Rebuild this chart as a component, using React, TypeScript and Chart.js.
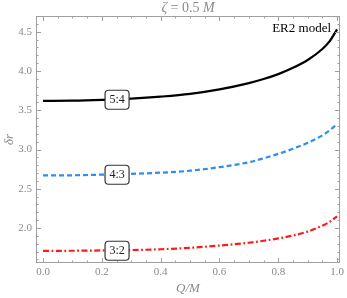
import React, { useEffect, useRef } from "react";
import { Chart, registerables } from "chart.js";

Chart.register(...registerables);

const qValues = [0, 0.1, 0.2, 0.3, 0.4, 0.5, 0.6, 0.7, 0.75, 0.8, 0.85, 0.9, 0.95, 0.975, 1.0];
const ratio54 = [3.62, 3.622, 3.632, 3.648, 3.673, 3.708, 3.765, 3.845, 3.897, 3.96, 4.04, 4.14, 4.28, 4.38, 4.53];
const ratio43 = [2.67, 2.672, 2.68, 2.69, 2.705, 2.73, 2.775, 2.838, 2.888, 2.945, 3.01, 3.085, 3.18, 3.245, 3.325];
const ratio32 = [1.71, 1.711, 1.715, 1.72, 1.73, 1.748, 1.777, 1.813, 1.838, 1.868, 1.905, 1.955, 2.03, 2.08, 2.15];
const seriesLabels = ["5:4", "4:3", "3:2"];
const labelQ = 0.25;
const xTickValues = [0, 0.2, 0.4, 0.6, 0.8, 1.0];
const yTickValues = [2.0, 2.5, 3.0, 3.5, 4.0, 4.5];
const xMin = -0.024, xMax = 1.01, yMin = 1.555, yMax = 4.7;

const GRAY = "#8a8a8a";
const FRAME = "#a0a0a0";

function interp(xs: number[], ys: number[], x: number) {
  for (let i = 0; i < xs.length - 1; i++) {
    if (x >= xs[i] && x <= xs[i + 1]) {
      const t = (x - xs[i]) / (xs[i + 1] - xs[i]);
      return ys[i] + t * (ys[i + 1] - ys[i]);
    }
  }
  return ys[ys.length - 1];
}

const decorPlugin = {
  id: "decor",
  afterDraw(chart: any) {
    const ctx = chart.ctx;
    const { left, right, top, bottom } = chart.chartArea;
    const xs = chart.scales.x;
    const ys = chart.scales.y;
    ctx.save();
    ctx.strokeStyle = FRAME;
    ctx.lineWidth = 1;
    ctx.strokeRect(left + 0.5, top + 0.5, right - left - 1, bottom - top - 1);
    for (let k = 0; k <= 20; k++) {
      const v = k * 0.05;
      const major = k % 4 === 0;
      const len = major ? 5 : 2.5;
      const px = Math.round(xs.getPixelForValue(v)) + 0.5;
      ctx.beginPath();
      ctx.moveTo(px, bottom);
      ctx.lineTo(px, bottom - len);
      ctx.moveTo(px, top);
      ctx.lineTo(px, top + len);
      ctx.stroke();
    }
    for (let k = 16; k <= 47; k++) {
      const v = k / 10;
      if (v < yMin || v > yMax) continue;
      const major = k % 5 === 0;
      const len = major ? 5 : 2.5;
      const py = Math.round(ys.getPixelForValue(v)) + 0.5;
      ctx.beginPath();
      ctx.moveTo(left, py);
      ctx.lineTo(left + len, py);
      ctx.moveTo(right, py);
      ctx.lineTo(right - len, py);
      ctx.stroke();
    }
    const allSeries = [ratio54, ratio43, ratio32];
    allSeries.forEach((s, i) => {
      const cx = xs.getPixelForValue(labelQ);
      const cy = ys.getPixelForValue(interp(qValues, s, labelQ));
      const w = 24, h = 19, r = 3.5;
      ctx.beginPath();
      ctx.roundRect(cx - w / 2 + 0.5, cy - h / 2 + 0.5, w, h, r);
      ctx.fillStyle = "#fff";
      ctx.fill();
      ctx.strokeStyle = "#333";
      ctx.lineWidth = 1.2;
      ctx.stroke();
      ctx.fillStyle = "#222";
      ctx.font = "12px 'Liberation Serif'";
      ctx.textAlign = "center";
      ctx.textBaseline = "middle";
      ctx.fillText(seriesLabels[i], cx + 0.5, cy + 1);
    });
    ctx.fillStyle = "#000";
    ctx.font = "13px 'Liberation Serif'";
    ctx.textAlign = "right";
    ctx.textBaseline = "middle";
    ctx.fillText("ER2 model", right - 9, top + 13);
    const cxm = (left + right) / 2;
    ctx.fillStyle = GRAY;
    ctx.textBaseline = "middle";
    const parts: [string, string][] = [
      ["italic 14px 'Liberation Serif'", "ζ"],
      ["14px 'Liberation Serif'", " = 0.5 "],
      ["italic 14px 'Liberation Serif'", "M"],
    ];
    let total = 0;
    parts.forEach(([f, t]) => { ctx.font = f; total += ctx.measureText(t).width; });
    let x0 = cxm - total / 2;
    ctx.textAlign = "left";
    parts.forEach(([f, t]) => { ctx.font = f; ctx.fillText(t, x0, 8); x0 += ctx.measureText(t).width; });
    ctx.font = "italic 13px 'Liberation Serif'";
    ctx.textAlign = "center";
    ctx.fillText("Q/M", cxm, 289);
    ctx.save();
    ctx.translate(10, (top + bottom) / 2);
    ctx.rotate(-Math.PI / 2);
    ctx.font = "italic 13px 'Liberation Serif'";
    ctx.fillText("δr", 0, 0);
    ctx.restore();
    ctx.restore();
  },
};

export default function App() {
  const ref = useRef<HTMLCanvasElement>(null);
  useEffect(() => {
    document.body.style.margin = "0";
    const toPts = (s: number[]) => s.map((y, i) => ({ x: qValues[i], y }));
    const chart = new Chart(ref.current!, {
      type: "line",
      data: {
        datasets: [
          { label: "5:4", data: toPts(ratio54), borderColor: "#000", borderWidth: 2.2, pointRadius: 0, cubicInterpolationMode: "monotone" },
          { label: "4:3", data: toPts(ratio43), borderColor: "#2b8ff0", borderWidth: 2.2, borderDash: [5, 3], pointRadius: 0, cubicInterpolationMode: "monotone" },
          { label: "3:2", data: toPts(ratio32), borderColor: "#ff1a1a", borderWidth: 2.2, borderDash: [6, 2.5, 1.8, 2.5], pointRadius: 0, cubicInterpolationMode: "monotone" },
        ],
      } as any,
      options: {
        animation: false,
        responsive: false,
        maintainAspectRatio: false,
        layout: { padding: { left: 0, right: 5, top: 16, bottom: 0 } },
        plugins: { legend: { display: false }, tooltip: { enabled: false } },
        scales: {
          x: {
            type: "linear",
            min: xMin,
            max: xMax,
            afterBuildTicks: (s: any) => { s.ticks = xTickValues.map((v) => ({ value: v })); },
            afterFit: (s: any) => { s.height = 35; },
            grid: { display: false, drawTicks: false },
            border: { display: false },
            ticks: { color: GRAY, font: { family: "'Liberation Serif'", size: 11 }, padding: 3, maxRotation: 0, callback: (v: any) => Number(v).toFixed(1) },
          },
          y: {
            type: "linear",
            min: yMin,
            max: yMax,
            afterBuildTicks: (s: any) => { s.ticks = yTickValues.map((v) => ({ value: v })); },
            afterFit: (s: any) => { s.width = 36; },
            grid: { display: false, drawTicks: false },
            border: { display: false },
            ticks: { color: GRAY, font: { family: "'Liberation Serif'", size: 11 }, padding: 4, callback: (v: any) => Number(v).toFixed(1) },
          },
        },
      } as any,
      plugins: [decorPlugin],
    });
    return () => chart.destroy();
  }, []);
  return (
    <div style={{ width: 347, height: 298 }}>
      <canvas ref={ref} width={347} height={298} style={{ display: "block" }} />
    </div>
  );
}
